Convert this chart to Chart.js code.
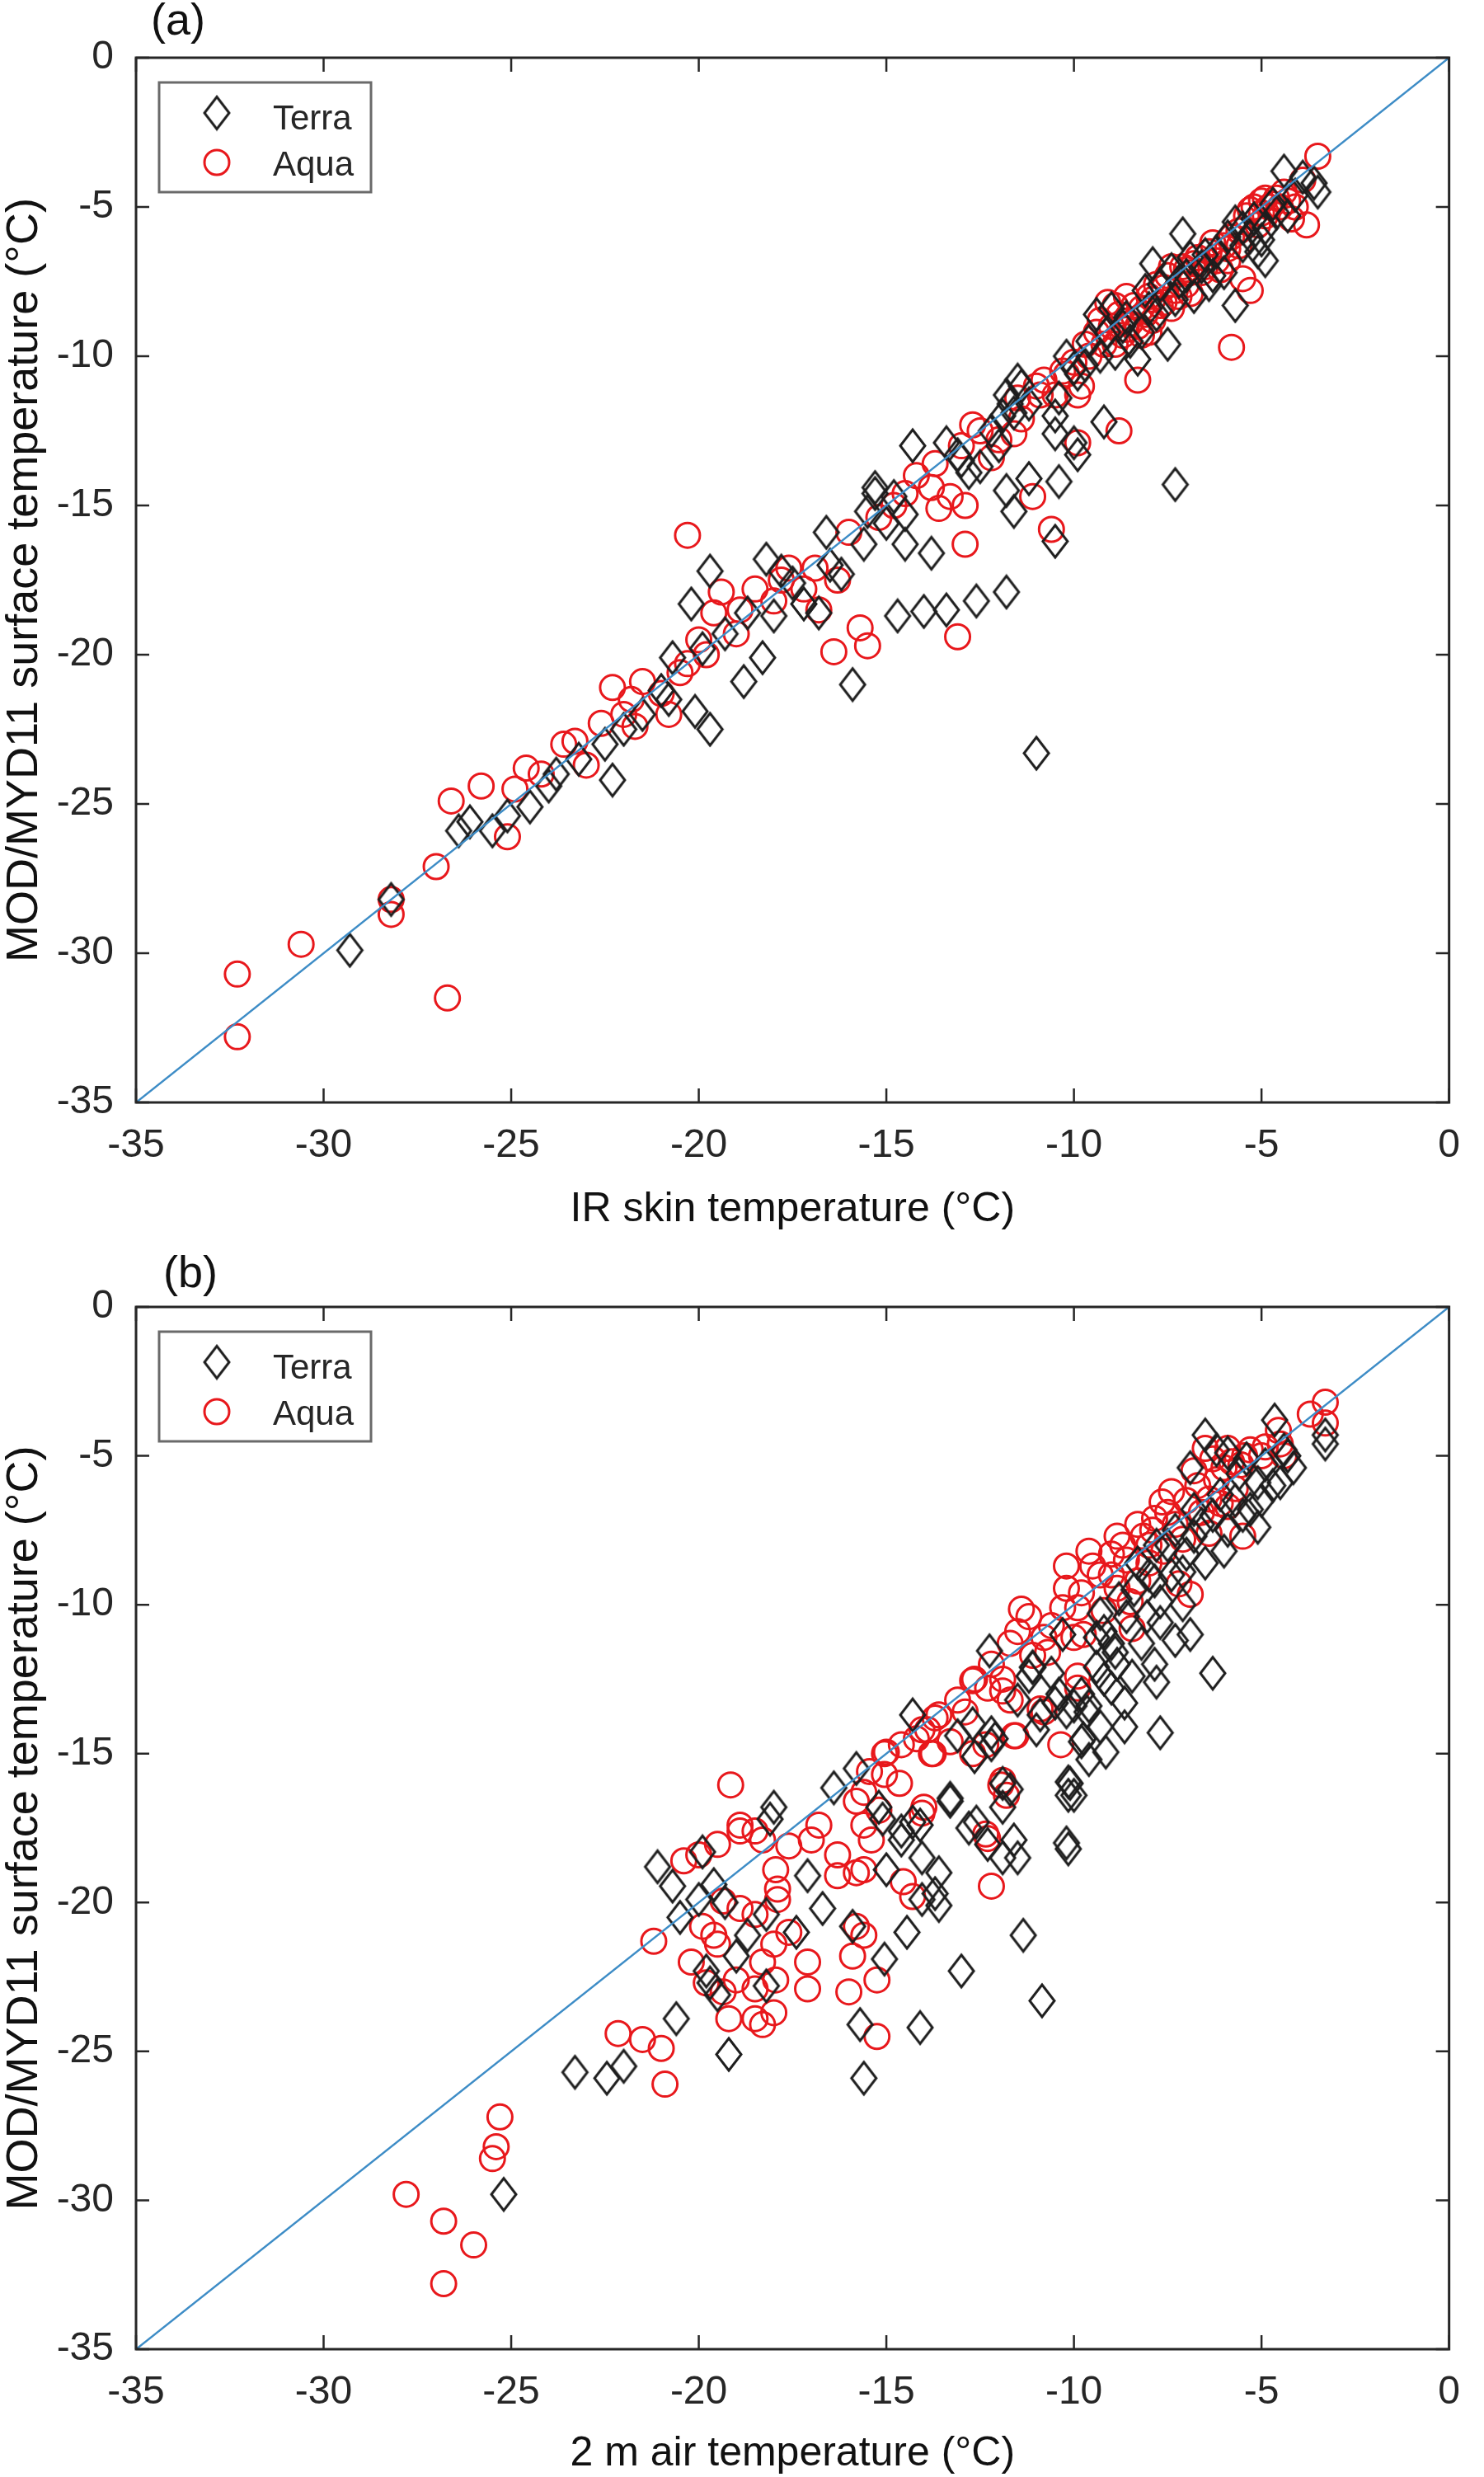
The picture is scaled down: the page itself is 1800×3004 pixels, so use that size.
<!DOCTYPE html>
<html>
<head>
<meta charset="utf-8">
<script src="https://cdn.jsdelivr.net/npm/chart.js@4.4.1/dist/chart.umd.min.js"></script>
<style>
  body { margin: 0; background: #fff; }
  .panel { position: relative; width: 1800px; height: 1502px; }
  canvas { display: block; }
</style>
</head>
<body>
<div class="panel"><canvas id="chartA" width="1800" height="1502"></canvas></div>
<div class="panel"><canvas id="chartB" width="1800" height="1502"></canvas></div>
<script>
// axis range and tick step (same for both panels)
const axisMin = -35;
const axisMax = 0;
const tickStep = 5;

const seriesNames = ["Terra", "Aqua"];

// (a) IR skin temperature vs MODIS LST  [x, y]
const terraA = [
  [-9.4,-8.6],[-9.1,-9.2],[-8.9,-9.9],[-8.7,-9.0],[-8.5,-9.5],[-8.3,-10.1],[-8.0,-8.4],[-7.9,-6.9],
  [-7.7,-7.6],[-7.5,-9.6],[-7.3,-8.1],[-7.1,-5.9],[-7.0,-7.3],[-6.8,-8.0],[-6.6,-7.0],[-6.4,-7.6],
  [-6.2,-6.5],[-6.0,-7.2],[-5.7,-5.5],[-5.7,-8.3],[-5.5,-6.3],[-5.3,-6.0],[-5.1,-6.5],[-4.9,-6.8],
  [-4.9,-5.7],[-4.6,-5.2],[-4.4,-3.8],[-4.3,-5.3],[-4.1,-4.6],[-3.9,-4.0],[-3.5,-4.5],[-3.6,-4.2],
  [-9.7,-10.3],[-9.9,-10.6],[-10.4,-11.4],[-10.0,-10.4],[-9.3,-10.0],
  [-9.0,-8.4],[-8.6,-8.7],[-8.2,-9.2],[-7.8,-8.6],[-7.4,-7.1],[-7.2,-7.5],[-6.9,-6.7],[-6.5,-6.6],
  [-6.3,-7.3],[-5.9,-6.0],[-5.5,-5.7],[-5.2,-5.4],[-5.0,-6.1],[-4.7,-4.9],[-8.1,-7.8],[-9.6,-9.5],
  [-10.2,-10.0],[-11.4,-11.0],[-11.7,-11.6],
  [-11.5,-10.8],[-11.8,-11.3],[-11.6,-11.9],[-11.2,-11.6],[-10.5,-12.0],[-10.5,-12.6],[-10.0,-12.9],
  [-9.9,-13.3],[-12.5,-13.7],[-12.8,-13.9],[-13.1,-13.3],[-13.4,-12.9],[-14.3,-13.0],[-15.3,-14.4],
  [-14.8,-14.7],[-15.5,-15.2],[-14.5,-15.3],[-14.5,-16.3],[-13.8,-16.6],[-11.8,-14.5],[-11.2,-14.1],
  [-11.6,-15.2],[-10.4,-14.2],[-10.5,-16.2],[-14.7,-18.7],[-14.0,-18.55],[-13.4,-18.5],[-12.6,-18.2],
  [-11.8,-17.9],[-7.3,-14.3],[-11.0,-23.3],[-9.2,-12.2],[-12.2,-12.5],[-11.9,-12.0],[-12.0,-13.0],
  [-13.0,-13.5],
  [-29.3,-29.9],[-28.2,-28.2],[-26.4,-25.9],[-26.1,-25.6],[-25.5,-25.9],[-25.1,-25.4],[-24.5,-25.1],
  [-23.8,-24.0],[-22.3,-24.2],[-22.5,-23.0],[-22.0,-22.5],[-21.5,-22.0],[-21.0,-21.2],[-20.7,-20.1],
  [-20.1,-21.9],[-19.7,-22.5],[-19.9,-19.8],[-20.2,-18.3],[-19.7,-17.2],[-19.3,-19.3],[-18.8,-20.9],
  [-18.3,-20.1],[-18.7,-18.6],[-18.2,-16.8],[-18.0,-18.7],[-17.5,-17.6],[-17.2,-18.3],[-16.8,-18.6],
  [-16.6,-15.9],[-16.2,-17.3],[-15.9,-21.0],[-15.6,-16.3],[-15.3,-14.6],[-15.0,-15.6],[-16.5,-17.0],
  [-17.8,-17.2],[-20.8,-21.5],[-24.0,-24.4],[-23.2,-23.5]
];
const aquaA = [
  [-10.3,-10.5],[-10.0,-10.2],[-9.7,-9.6],[-9.4,-9.2],[-9.2,-9.6],[-9.0,-9.0],[-8.8,-8.6],[-8.7,-9.3],
  [-8.5,-8.9],[-8.4,-8.3],[-8.3,-9.0],[-8.1,-8.6],[-8.0,-8.0],[-7.9,-8.8],[-7.8,-7.6],[-7.6,-8.2],
  [-7.5,-7.3],[-7.3,-7.8],[-7.1,-7.0],[-7.0,-7.6],[-6.9,-7.2],[-6.7,-6.7],[-6.5,-7.0],[-6.4,-6.5],
  [-6.2,-6.8],[-6.0,-6.3],[-5.8,-6.0],[-5.6,-5.8],[-5.4,-5.3],[-5.2,-5.0],[-5.0,-4.8],[-4.9,-5.3],
  [-4.7,-4.9],[-4.5,-5.0],[-4.4,-4.5],[-4.2,-5.4],[-3.9,-4.1],[-3.8,-5.6],[-3.5,-3.3],[-4.9,-4.7],
  [-5.3,-5.1],[-5.1,-5.6],[-4.1,-5.0],[-9.8,-11.0],[-10.5,-11.3],[-10.9,-11.3],[-10.2,-10.6],
  [-9.9,-11.3],[-8.3,-10.8],[-9.1,-8.2],[-8.9,-9.6],[-8.0,-9.2],[-7.7,-8.3],[-7.2,-8.0],[-6.9,-7.9],
  [-6.6,-7.2],[-5.9,-6.8],[-5.5,-7.4],[-5.3,-7.8],[-5.8,-9.7],[-8.8,-12.5],
  [-9.3,-8.8],[-8.9,-8.3],[-8.6,-9.1],[-8.2,-8.4],[-7.9,-8.1],[-7.6,-7.7],[-7.4,-8.4],[-7.0,-7.1],
  [-6.8,-6.9],[-6.3,-6.2],[-5.9,-6.4],[-5.6,-6.3],[-4.8,-5.0],[-4.6,-4.7],[-9.6,-10.0],[-8.6,-8.0],
  [-8.2,-9.3],[-7.4,-7.0],[-6.1,-7.1],[-5.0,-5.2],[-4.3,-4.8],
  [-10.6,-15.8],[-11.1,-14.7],[-12.9,-16.3],[-13.1,-19.4],[-12.7,-12.3],[-12.5,-12.5],[-11.6,-12.6],
  [-12.0,-12.8],[-13.7,-13.6],[-13.8,-14.4],[-13.3,-14.7],[-12.9,-15.0],[-13.6,-15.1],[-9.9,-12.9],
  [-14.8,-15.0],[-14.2,-14.0],[-14.5,-14.6],[-11.5,-11.4],[-11.0,-11.0],[-11.4,-12.1],[-10.8,-10.8],
  [-12.2,-13.4],[-15.2,-15.4],[-13.0,-13.0],
  [-32.3,-30.7],[-32.3,-32.8],[-30.6,-29.7],[-28.2,-28.2],[-28.2,-28.7],[-27.0,-27.1],[-26.7,-31.5],
  [-26.6,-24.9],[-25.8,-24.4],[-25.1,-26.1],[-24.9,-24.5],[-24.6,-23.8],[-23.6,-23.0],[-23.3,-22.9],
  [-23.0,-23.7],[-22.3,-21.1],[-22.6,-22.3],[-21.8,-21.5],[-21.5,-20.9],[-21.0,-21.3],[-20.8,-22.0],
  [-21.7,-22.4],[-20.3,-16.0],[-20.0,-19.5],[-20.3,-20.3],[-19.4,-17.9],[-19.6,-18.6],[-19.0,-19.3],
  [-18.5,-17.8],[-18.0,-18.2],[-17.6,-17.1],[-17.2,-17.8],[-16.9,-17.1],[-16.3,-17.5],[-16.0,-15.9],
  [-15.7,-19.1],[-15.5,-19.7],[-16.4,-19.9],[-16.8,-18.5],[-17.8,-17.5],[-18.9,-18.5],[-19.8,-20.0],
  [-24.2,-24.0],[-22.0,-22.0],[-20.5,-20.6]
];

// (b) 2 m air temperature vs MODIS LST  [x, y]
const terraB = [
  [-3.3,-4.3],[-3.3,-4.6],[-4.65,-3.8],[-4.15,-5.4],[-4.5,-5.9],[-4.4,-4.8],[-5.1,-7.4],[-6.5,-4.3],
  [-6.2,-4.8],[-6.9,-5.4],[-5.6,-5.6],[-5.1,-5.9],[-6.0,-8.2],[-6.5,-8.6],[-7.1,-8.9],[-7.4,-9.0],
  [-7.85,-9.2],[-7.7,-9.9],[-8.05,-10.4],[-7.7,-10.6],[-7.1,-10.0],[-9.4,-11.1],[-9.0,-11.3],
  [-8.85,-12.0],[-7.85,-12.0],[-6.3,-12.3],[-8.45,-12.4],[-7.8,-12.6],[-9.0,-12.8],[-8.65,-13.3],
  [-9.6,-13.4],[-10.2,-13.6],[-9.3,-14.1],[-9.8,-14.6],[-8.65,-14.1],[-7.7,-14.3],[-9.6,-15.2],
  [-9.15,-14.95],[-10.1,-16.0],[-10.0,-16.4],[-11.2,-12.4],[-12.25,-11.55],[-14.3,-13.7],[-12.1,-14.5],
  [-12.65,-15.1],[-11.7,-16.2],[-11.9,-16.8],[-13.3,-16.5],[-14.1,-17.4],[-14.6,-17.6],[-12.6,-17.3],
  [-11.6,-17.9],[-10.2,-18.0],[-15.2,-16.8],[-6.8,-6.8],[-7.3,-7.5],[-7.8,-8.0],[-8.3,-8.6],
  [-8.8,-9.8],[-9.3,-10.3],[-10.3,-11.0],[-6.1,-6.3],[-5.7,-6.5],[-6.6,-7.3],[-8.2,-11.3],
  [-9.8,-13.0],[-10.5,-13.3],[-10.9,-13.7],[-11.1,-12.1],[-10.4,-13.0],[-10.0,-13.4],[-9.65,-13.6],
  [-9.75,-14.5],[-10.15,-15.95],[-10.15,-16.4],[-10.15,-18.2],[-11.35,-21.1],[-10.85,-23.3],
  [-5.3,-6.8],[-4.7,-6.0],[-4.3,-5.0],
  [-5.9,-4.9],[-5.4,-5.1],[-4.9,-5.3],[-5.0,-6.5],[-5.5,-7.0],[-5.9,-7.5],[-6.3,-7.0],[-6.8,-7.7],
  [-7.0,-8.3],[-7.5,-8.0],[-8.0,-9.0],[-8.4,-9.5],[-8.6,-10.4],[-9.2,-10.9],[-8.9,-11.6],[-9.4,-12.1],
  [-10.6,-12.3],[-11.5,-13.2],[-12.7,-14.0],[-13.1,-14.4],[-11.0,-14.2],[-9.2,-12.5],[-7.3,-11.2],
  [-6.9,-11.0],
  [-21.1,-18.8],[-20.7,-19.45],[-19.9,-18.3],[-19.6,-19.4],[-18.0,-16.8],[-18.1,-17.2],[-19.8,-22.3],
  [-19.7,-22.7],[-19.5,-23.1],[-19.0,-21.8],[-18.7,-21.1],[-18.2,-20.4],[-17.4,-21.0],[-18.2,-22.8],
  [-17.1,-19.1],[-16.7,-20.2],[-16.4,-16.15],[-15.8,-15.5],[-15.9,-20.8],[-15.1,-17.2],[-15.0,-18.9],
  [-15.05,-21.9],[-14.3,-17.3],[-14.6,-17.9],[-14.05,-18.5],[-13.6,-19.0],[-14.05,-19.9],[-13.7,-19.7],
  [-13.6,-20.1],[-13.3,-16.6],[-12.8,-17.5],[-12.3,-18.05],[-11.9,-18.5],[-11.5,-18.5],[-11.9,-16.0],
  [-13.0,-22.3],[-14.45,-21.0],[-15.7,-24.1],[-14.1,-24.2],[-15.6,-25.9],[-19.2,-25.1],[-20.6,-23.9],
  [-23.3,-25.7],[-22.45,-25.9],[-22.0,-25.5],[-25.2,-29.8],[-12.2,-14.7],[-12.2,-14.3],[-11.1,-12.1],
  [-20.5,-20.5],[-20.0,-19.9],[-19.3,-20.0]
];
const aquaB = [
  [-3.3,-3.2],[-3.3,-3.9],[-4.55,-4.15],[-4.4,-5.0],[-5.9,-4.75],[-6.5,-4.75],[-5.45,-5.0],[-5.55,-5.3],
  [-5.0,-5.0],[-6.0,-5.4],[-5.9,-6.7],[-6.4,-6.45],[-5.5,-7.7],[-7.65,-6.55],[-7.85,-7.1],[-7.3,-7.3],
  [-8.15,-7.7],[-8.85,-7.7],[-9.0,-8.3],[-9.5,-8.7],[-10.2,-8.7],[-10.2,-9.45],[-8.85,-9.45],[-8.3,-9.2],
  [-6.9,-9.65],[-11.4,-10.15],[-11.5,-10.9],[-10.8,-11.1],[-11.7,-11.3],[-10.0,-11.1],[-8.45,-10.8],
  [-9.75,-11.0],[-12.65,-12.5],[-11.9,-12.5],[-11.7,-13.2],[-10.8,-13.6],[-9.9,-12.8],[-13.7,-13.8],
  [-14.2,-14.5],[-15.0,-14.95],[-13.8,-15.0],[-12.7,-15.0],[-11.55,-14.4],[-10.35,-14.7],[-11.9,-15.9],
  [-15.45,-15.6],[-14.65,-16.0],[-14.0,-16.8],[-12.35,-17.7],[-7.0,-6.5],[-6.7,-6.0],[-7.5,-6.9],
  [-8.0,-8.0],[-8.6,-8.5],[-9.3,-9.0],[-9.8,-9.6],[-10.3,-10.1],[-6.2,-5.8],[-4.9,-4.7],[-5.7,-6.1],
  [-7.1,-7.8],[-8.5,-9.9],[-9.2,-10.2],[-7.2,-9.3],[-10.6,-10.7],[-12.2,-12.0],[-13.1,-13.2],
  [-11.1,-11.7],[-13.3,-14.6],[-4.5,-4.6],[-3.7,-3.6],
  [-6.8,-5.5],[-6.3,-5.1],[-5.8,-5.2],[-5.3,-4.8],[-6.1,-6.6],[-7.4,-6.2],[-6.6,-6.9],[-8.3,-7.3],
  [-7.9,-7.5],[-8.7,-8.0],[-9.6,-8.2],[-8.0,-8.6],[-7.6,-8.2],[-6.4,-7.6],[-9.0,-9.0],[-9.9,-10.1],
  [-10.7,-11.6],[-11.2,-10.4],[-12.3,-12.8],[-13.9,-14.2],[-12.9,-13.6],
  [-19.15,-16.05],[-18.9,-17.6],[-18.9,-17.4],[-18.5,-17.6],[-18.3,-17.9],[-19.5,-18.05],[-20.4,-18.6],
  [-20.0,-18.4],[-21.2,-21.3],[-19.35,-19.95],[-18.9,-20.2],[-18.5,-20.4],[-19.9,-20.8],[-19.6,-21.1],
  [-19.5,-21.4],[-20.2,-22.0],[-19.8,-22.7],[-19.35,-23.0],[-19.0,-22.6],[-18.5,-22.9],[-19.2,-23.9],
  [-18.5,-23.9],[-18.3,-24.1],[-18.0,-23.7],[-17.95,-22.6],[-18.3,-22.0],[-18.0,-21.4],[-17.6,-21.0],
  [-17.1,-22.0],[-17.1,-22.9],[-17.95,-18.9],[-17.9,-19.55],[-17.9,-19.9],[-17.6,-18.1],[-16.8,-17.4],
  [-17.0,-17.9],[-16.3,-19.1],[-16.3,-18.4],[-15.8,-16.6],[-15.6,-16.3],[-15.6,-17.4],[-15.2,-16.9],
  [-15.4,-17.9],[-15.8,-19.0],[-15.6,-18.9],[-15.8,-20.8],[-15.6,-21.1],[-15.9,-21.8],[-16.0,-23.0],
  [-15.25,-22.6],[-15.25,-24.5],[-14.55,-19.3],[-14.3,-19.8],[-14.05,-17.0],[-15.05,-15.0],[-14.6,-14.7],
  [-13.75,-15.0],[-13.6,-13.7],[-14.05,-14.2],[-15.05,-15.7],[-12.35,-14.7],[-11.6,-14.4],
  [-11.95,-16.05],[-11.8,-16.4],[-12.3,-17.85],[-12.2,-19.45],[-12.7,-12.55],[-11.9,-12.9],
  [-10.9,-13.5],[-9.9,-12.4],[-22.15,-24.4],[-21.5,-24.6],[-21.0,-24.9],[-20.9,-26.1],[-27.8,-29.8],
  [-26.8,-30.7],[-26.8,-32.8],[-26.0,-31.5],[-25.4,-28.2],[-25.5,-28.6],[-25.3,-27.2]
];

const fontFamily = "'Liberation Sans', Arial, Helvetica, sans-serif";
const axisColor = '#262626';

function diamondImage(w, h, lw, color) {
	const c = document.createElement('canvas');
	c.width = w + lw * 2;
	c.height = h + lw * 2;
	const g = c.getContext('2d');
	const cx = c.width / 2, cy = c.height / 2;
	g.strokeStyle = color;
	g.lineWidth = lw;
	g.beginPath();
	g.moveTo(cx, cy - h / 2);
	g.lineTo(cx + w / 2, cy);
	g.lineTo(cx, cy + h / 2);
	g.lineTo(cx - w / 2, cy);
	g.closePath();
	g.stroke();
	return c;
}

const diamond = diamondImage(30, 39, 3, '#1e1e1e');
const aquaColor = 'rgb(232,24,28)';

// box, inward ticks, legend and panel tag
const framePlugin = {
	id: 'frame',
	afterDraw(chart, args, opts) {
		const ctx = chart.ctx;
		const a = chart.chartArea;
		const sx = chart.scales.x, sy = chart.scales.y;
		ctx.save();
		ctx.strokeStyle = axisColor;
		ctx.lineWidth = 3;
		ctx.strokeRect(a.left, a.top, a.right - a.left, a.bottom - a.top);
		ctx.lineWidth = 2.5;
		ctx.beginPath();
		for (let v = axisMin; v <= axisMax; v += tickStep) {
			const px = sx.getPixelForValue(v);
			const py = sy.getPixelForValue(v);
			ctx.moveTo(px, a.bottom); ctx.lineTo(px, a.bottom - 17);
			ctx.moveTo(px, a.top); ctx.lineTo(px, a.top + 17);
			ctx.moveTo(a.left, py); ctx.lineTo(a.left + 16, py);
			ctx.moveTo(a.right, py); ctx.lineTo(a.right - 16, py);
		}
		ctx.stroke();

		// legend box
		const lx = a.left + 28, ly = a.top + 30;
		ctx.fillStyle = '#fff';
		ctx.fillRect(lx, ly, 257, 133);
		ctx.strokeStyle = '#6a6a6a';
		ctx.lineWidth = 3;
		ctx.strokeRect(lx, ly, 257, 133);
		ctx.drawImage(diamond, lx + 70 - diamond.width / 2, ly + 37 - diamond.height / 2);
		ctx.strokeStyle = aquaColor;
		ctx.beginPath();
		ctx.arc(lx + 70, ly + 97, 15, 0, Math.PI * 2);
		ctx.stroke();
		ctx.fillStyle = axisColor;
		ctx.font = '42px ' + fontFamily;
		ctx.textBaseline = 'alphabetic';
		ctx.textAlign = 'left';
		ctx.fillText(seriesNames[0], lx + 138, ly + 57);
		ctx.fillText(seriesNames[1], lx + 138, ly + 113);

		// panel tag
		ctx.fillStyle = '#111';
		ctx.font = '54px ' + fontFamily;
		ctx.fillText(opts.tag, opts.tagX, opts.tagY);
		ctx.restore();
	}
};

function makeChart(id, terra, aqua, xTitle, geom) {
	new Chart(document.getElementById(id).getContext('2d'), {
		data: {
			datasets: [
				{
					type: 'line',
					data: [{ x: axisMin, y: axisMin }, { x: axisMax, y: axisMax }],
					borderColor: '#3d8cc6',
					borderWidth: 2.5,
					pointRadius: 0,
					fill: false
				},
				{
					type: 'scatter',
					label: seriesNames[0],
					data: terra.map(p => ({ x: p[0], y: p[1] })),
					pointStyle: diamond,
					pointRadius: 17
				},
				{
					type: 'scatter',
					label: seriesNames[1],
					data: aqua.map(p => ({ x: p[0], y: p[1] })),
					pointStyle: 'circle',
					pointRadius: 15,
					borderColor: aquaColor,
					backgroundColor: 'rgba(0,0,0,0)',
					borderWidth: 3
				}
			]
		},
		options: {
			responsive: false,
			animation: false,
			events: [],
			devicePixelRatio: 1,
			layout: { padding: { top: geom.top, right: 33, left: 0, bottom: 0 } },
			plugins: {
				legend: { display: false },
				tooltip: { enabled: false },
				frame: { tag: geom.tag, tagX: geom.tagX, tagY: geom.tagY }
			},
			scales: {
				x: {
					type: 'linear',
					min: axisMin, max: axisMax,
					afterFit: s => { s.height = 1502 - geom.bottom; },
					grid: { display: false, drawTicks: false },
					border: { display: false },
					ticks: {
						stepSize: tickStep, autoSkip: false, padding: 29,
						color: axisColor, font: { size: 48, family: fontFamily, lineHeight: 1 }
					},
					title: {
						display: true, text: xTitle, color: '#111',
						font: { size: 50, family: fontFamily, lineHeight: 1 },
						padding: { top: 0, bottom: geom.xTitlePad }
					}
				},
				y: {
					type: 'linear',
					min: axisMin, max: axisMax,
					afterFit: s => { s.width = 165; },
					grid: { display: false, drawTicks: false },
					border: { display: false },
					ticks: {
						stepSize: tickStep, autoSkip: false, padding: 27,
						color: axisColor, font: { size: 48, family: fontFamily, lineHeight: 1 }
					},
					title: {
						display: true, text: 'MOD/MYD11 surface temperature (°C)', color: '#111',
						font: { size: 54, family: fontFamily, lineHeight: 1 },
						padding: { top: 3, bottom: 0 }
					}
				}
			}
		},
		plugins: [framePlugin]
	});
}

makeChart('chartA', terraA, aquaA, 'IR skin temperature (°C)',
	{ top: 70, bottom: 1337, xTitlePad: 10, tag: '(a)', tagX: 183, tagY: 42 });
makeChart('chartB', terraB, aquaB, '2 m air temperature (°C)',
	{ top: 83, bottom: 1347, xTitlePad: 3, tag: '(b)', tagX: 198, tagY: 59 });
</script>
</body>
</html>
